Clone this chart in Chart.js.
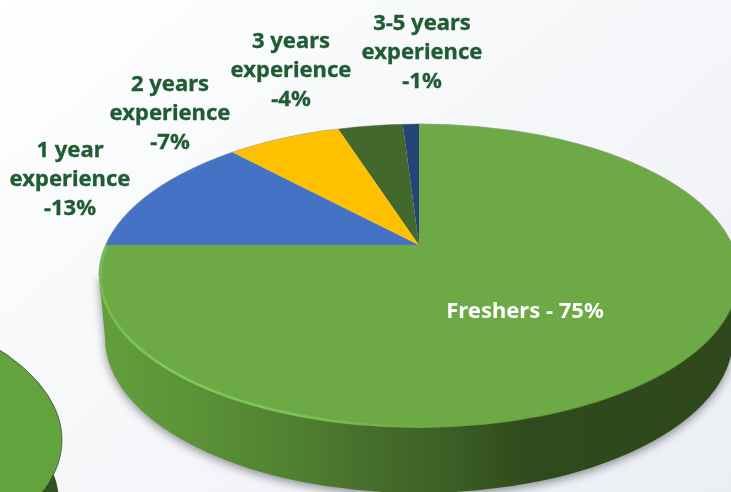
<!DOCTYPE html>
<html>
<head>
<meta charset="utf-8">
<script src="https://cdn.jsdelivr.net/npm/chart.js@4"></script>
<style>
html,body{margin:0;padding:0;width:731px;height:492px;overflow:hidden;background:linear-gradient(140deg,#ffffff 0%,#f8f9fb 35%,#f2f4f7 70%,#ebeef2 100%);}
canvas{display:block;}
</style>
</head>
<body>
<canvas id="c" width="731" height="492"></canvas>
<script>
const categories = ['Freshers', '1 year experience', '2 years experience', '3 years experience', '3-5 years experience'];
const shares = [75, 13, 7, 4, 1];
const sliceColors = ['#6DA945', '#4472C4', '#FFC000', '#43682B', '#264478'];
const labelLines = [['1 year', 'experience', '-13%'], ['2 years', 'experience', '-7%'], ['3 years', 'experience', '-4%'], ['3-5 years', 'experience', '-1%']];
const mainLabel = 'Freshers - 75%';

const APEX = {x: 419, y: 245}, TILT = 0.467;
const TOP = {x: 419, y: 276, rx: 320, ry: 152};
const BASE = {x: 419, y: 338, rx: 314, ry: 155};
const NEXT = {x: -258, y: 440, rx: 320, ry: 152};
const LABEL_POS = [[70, 151], [170, 85], [291, 42], [422, 24]];
const FONT = '"Noto Sans", sans-serif';

function ell(ctx, e) { ctx.ellipse(e.x, e.y, e.rx, e.ry, 0, 0, Math.PI * 2); }

const pie3d = {
  id: 'pie3d',
  beforeDatasetsDraw(chart) {
    const ctx = chart.ctx;
    // neighbouring pie, bottom-left
    ctx.save();
    ctx.fillStyle = '#33501f';
    ctx.beginPath(); ell(ctx, {...NEXT, y: NEXT.y + 62, rx: NEXT.rx - 3}); ctx.fill();
    ctx.fillStyle = '#62A33D';
    ctx.strokeStyle = 'rgba(45,70,28,.7)'; ctx.lineWidth = 1;
    ctx.beginPath(); ell(ctx, NEXT); ctx.fill(); ctx.stroke();
    ctx.restore();

    // side wall of the main pie
    ctx.save();
    const g = ctx.createLinearGradient(100, 0, 731, 0);
    g.addColorStop(0, '#659F3C');
    g.addColorStop(0.16, '#5A9136');
    g.addColorStop(0.32, '#4F7F30');
    g.addColorStop(0.47, '#42682A');
    g.addColorStop(0.56, '#3A5E25');
    g.addColorStop(0.68, '#2F4A1C');
    g.addColorStop(1, '#2E481B');
    ctx.fillStyle = g;
    ctx.shadowColor = 'rgba(50,55,65,.55)'; ctx.shadowBlur = 10; ctx.shadowOffsetY = 3;
    ctx.beginPath();
    ctx.moveTo(TOP.x - TOP.rx, TOP.y);
    ctx.lineTo(BASE.x - BASE.rx, BASE.y);
    ctx.ellipse(BASE.x, BASE.y, BASE.rx, BASE.ry, 0, Math.PI, 0, true);
    ctx.lineTo(TOP.x + TOP.rx, TOP.y);
    ctx.closePath();
    ctx.fill();
    ctx.restore();

    // soft rim behind the far edge
    ctx.save();
    ctx.strokeStyle = 'rgba(90,90,90,.5)'; ctx.lineWidth = 1.2;
    ctx.beginPath(); ctx.ellipse(TOP.x, TOP.y, TOP.rx, TOP.ry, 0, Math.PI, 0); ctx.stroke();
    ctx.restore();

    // tilted pie: slices pass through the library, clipped to the top face
    ctx.save();
    ctx.beginPath(); ell(ctx, TOP); ctx.clip();
    ctx.translate(0, APEX.y); ctx.scale(1, TILT); ctx.translate(0, -APEX.y);
  },
  afterDatasetsDraw(chart) {
    const ctx = chart.ctx;
    ctx.restore();

    // bevel highlight on the front-left edge
    ctx.save();
    const h = ctx.createLinearGradient(100, 0, 430, 0);
    h.addColorStop(0, 'rgba(120,190,80,.9)');
    h.addColorStop(0.2, 'rgba(130,205,90,.95)');
    h.addColorStop(0.65, 'rgba(130,200,90,.8)');
    h.addColorStop(1, 'rgba(125,185,85,0)');
    ctx.strokeStyle = h; ctx.lineWidth = 2.5;
    ctx.beginPath();
    ctx.ellipse(TOP.x, TOP.y, TOP.rx - 1.5, TOP.ry - 1.5, 0, Math.PI + 0.2, 1.55, true);
    ctx.stroke();
    // dark fade on the front-right edge
    const d = ctx.createLinearGradient(430, 0, 731, 0);
    d.addColorStop(0, 'rgba(45,70,28,0)');
    d.addColorStop(0.4, 'rgba(45,70,28,.45)');
    d.addColorStop(1, 'rgba(45,70,28,.45)');
    ctx.strokeStyle = d; ctx.lineWidth = 1.5;
    ctx.beginPath();
    ctx.ellipse(TOP.x, TOP.y, TOP.rx, TOP.ry, 0, 1.55, -0.1, true);
    ctx.stroke();
    ctx.restore();

    // labels
    ctx.save();
    ctx.textAlign = 'center'; ctx.textBaseline = 'middle';
    ctx.lineJoin = 'round';
    ctx.fillStyle = '#1F5C33'; ctx.strokeStyle = '#1F5C33'; ctx.lineWidth = 0.35;
    ctx.font = 'bold 22px ' + FONT;
    labelLines.forEach((lines, i) => {
      lines.forEach((t, j) => {
        const x = LABEL_POS[i][0], y = LABEL_POS[i][1] + j * 29;
        ctx.fillText(t, x, y); ctx.strokeText(t, x, y);
      });
    });
    ctx.fillStyle = '#FFFFFF';
    ctx.font = 'bold 22px ' + FONT;
    ctx.fillText(mainLabel, 525, 312);
    ctx.restore();
  }
};

new Chart(document.getElementById('c'), {
  type: 'pie',
  data: {
    labels: categories,
    datasets: [{data: shares, backgroundColor: sliceColors, borderWidth: 0, radius: 420, clip: false}]
  },
  options: {
    responsive: false,
    animation: false,
    layout: {padding: {left: 107, right: 0, top: 0, bottom: 2}},
    plugins: {legend: {display: false}, tooltip: {enabled: false}}
  },
  plugins: [pie3d]
});
</script>
</body>
</html>
